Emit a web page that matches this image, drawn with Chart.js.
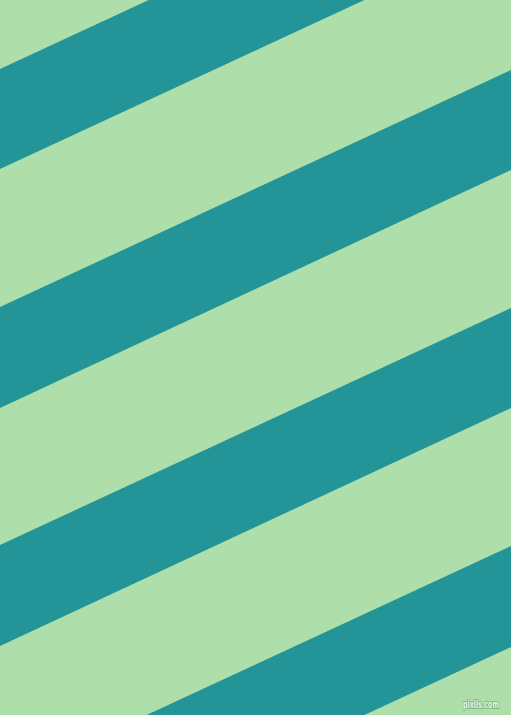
<!DOCTYPE html>
<html lang="en">
<head>
    <meta charset="UTF-8">
    <title>Diagonal stripes</title>
    <script src="https://cdn.jsdelivr.net/npm/chart.js@4/dist/chart.umd.min.js"></script>
    <style>
        html, body { margin: 0; padding: 0; background: #AEDFAB; overflow: hidden; }
        canvas { display: block; }
    </style>
</head>
<body>
    <canvas id="chart" width="511" height="715"></canvas>

    <script>
        // edges of each teal band, read at the left (x=0) and right (x=511) borders
        const edgeX = [0, 511];
        const topLeft = [69, 307, 545, 783];
        const topRight = [-168, 70, 308, 546];
        const bottomLeft = [169, 408, 646, 884];
        const bottomRight = [-68, 170, 408, 647];

        const bandColor = '#239497';

        const datasets = [];
        topLeft.forEach((t, i) => {
            datasets.push({
                data: [{ x: edgeX[0], y: t }, { x: edgeX[1], y: topRight[i] }],
                borderWidth: 0,
                pointRadius: 0,
                fill: false
            });
            datasets.push({
                data: [{ x: edgeX[0], y: bottomLeft[i] }, { x: edgeX[1], y: bottomRight[i] }],
                borderWidth: 0,
                pointRadius: 0,
                backgroundColor: bandColor,
                fill: '-1'
            });
        });

        // little watermark in the lower right corner
        const watermark = {
            id: 'watermark',
            afterDraw(chart) {
                const c = chart.ctx;
                c.save();
                c.font = 'bold 10px "DejaVu Sans"';
                c.textAlign = 'right';
                c.textBaseline = 'alphabetic';
                c.lineWidth = 2;
                c.strokeStyle = 'rgba(120,175,125,0.8)';
                c.fillStyle = 'rgba(235,250,235,0.9)';
                c.strokeText('pixlis.com', 499, 708, 36);
                c.fillText('pixlis.com', 499, 708, 36);
                c.restore();
            }
        };

        new Chart(document.getElementById('chart').getContext('2d'), {
            type: 'line',
            data: { datasets },
            options: {
                responsive: false,
                animation: false,
                layout: { padding: 0 },
                plugins: { legend: { display: false }, tooltip: { enabled: false } },
                scales: {
                    x: { type: 'linear', min: 0, max: 511, display: false },
                    y: { type: 'linear', min: 0, max: 715, reverse: true, display: false }
                }
            },
            plugins: [watermark]
        });
    </script>
</body>
</html>
